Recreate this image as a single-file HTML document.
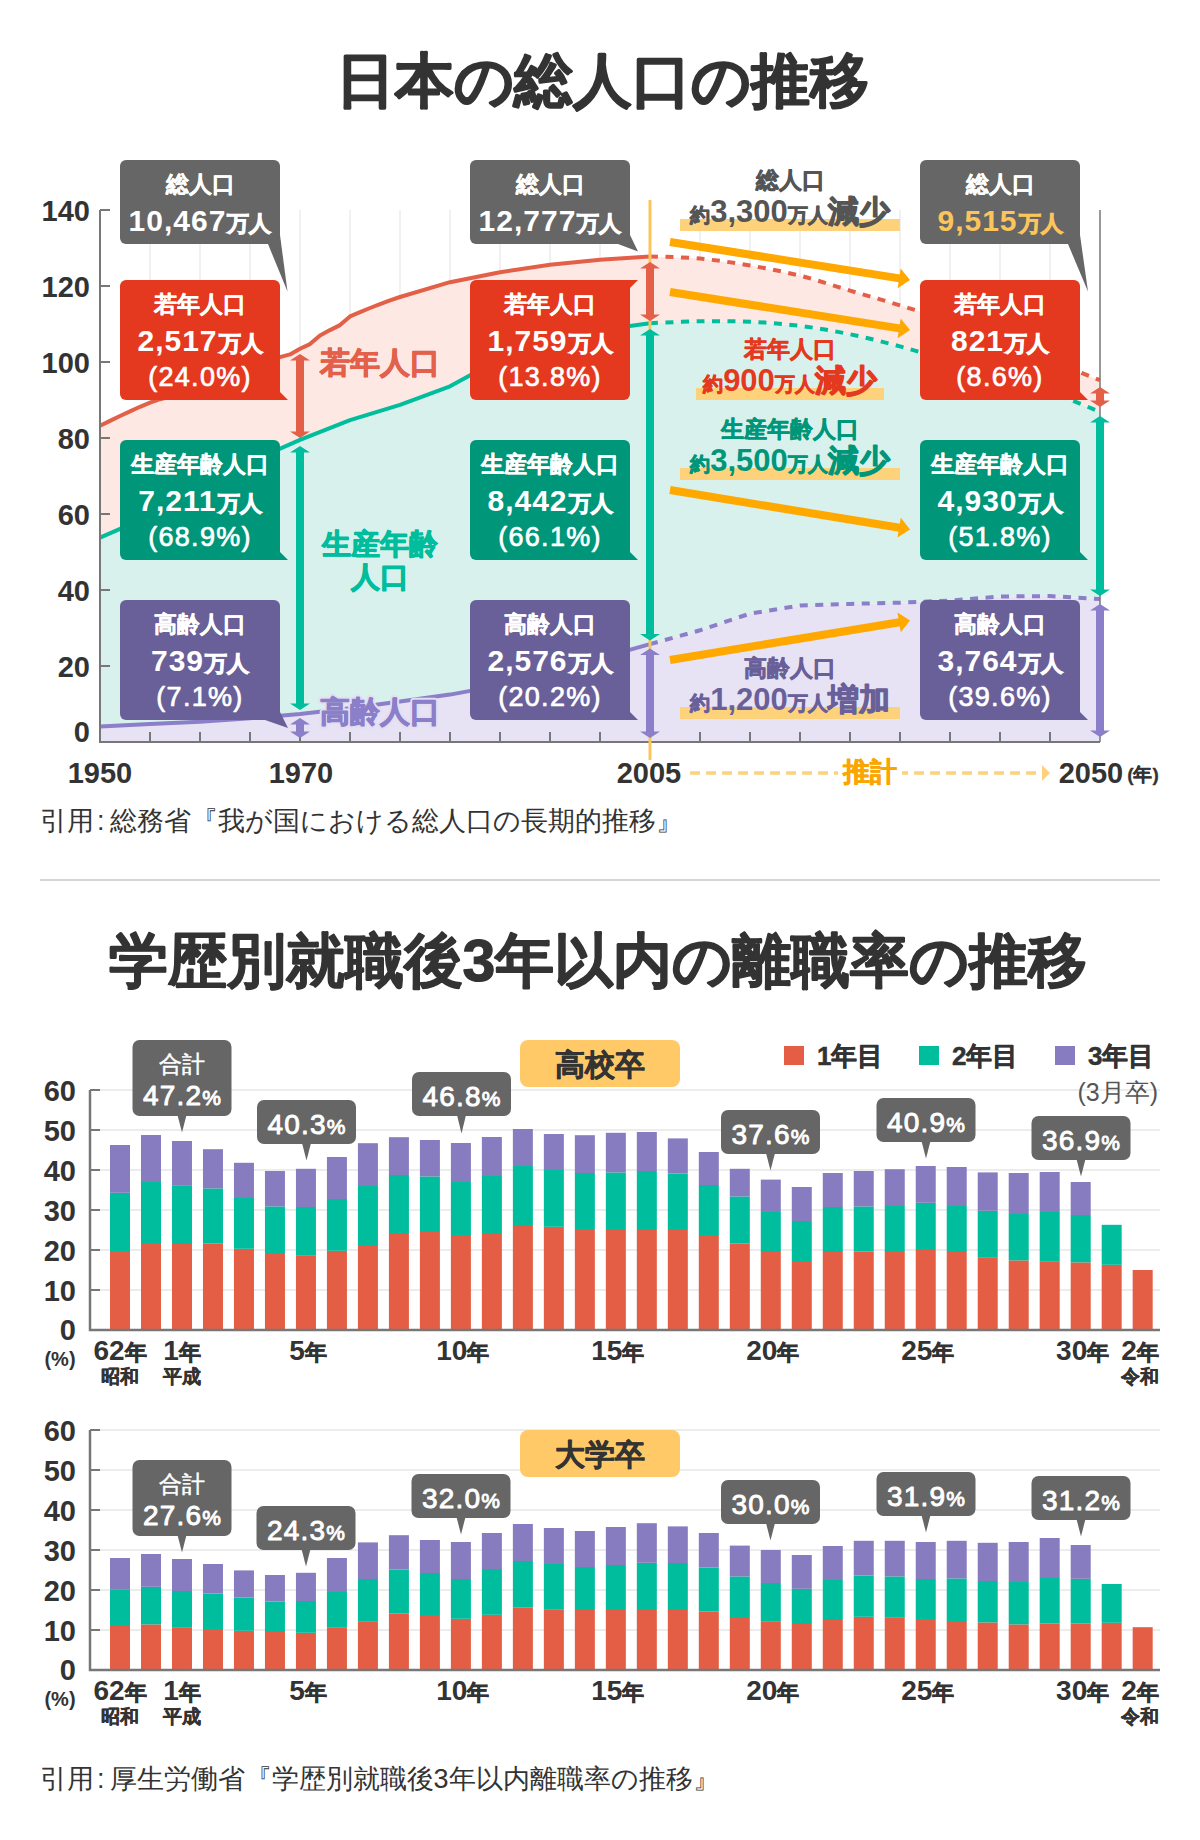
<!DOCTYPE html><html><head><meta charset="utf-8"><style>
html,body{margin:0;padding:0;background:#fff;}
svg{display:block;font-family:'Liberation Sans', sans-serif;}
</style></head><body>
<svg width="1200" height="1840" viewBox="0 0 1200 1840">
<text x="602" y="101" font-size="59" font-weight="bold" fill="#333" text-anchor="middle" stroke="#333" stroke-width="1.5" stroke-linejoin="round" >日本の総人口の推移</text>
<line x1="150" y1="210" x2="150" y2="742" stroke="#ececec" stroke-width="1.5"/>
<line x1="200" y1="210" x2="200" y2="742" stroke="#ececec" stroke-width="1.5"/>
<line x1="250" y1="210" x2="250" y2="742" stroke="#ececec" stroke-width="1.5"/>
<line x1="300" y1="210" x2="300" y2="742" stroke="#ececec" stroke-width="1.5"/>
<line x1="350" y1="210" x2="350" y2="742" stroke="#ececec" stroke-width="1.5"/>
<line x1="400" y1="210" x2="400" y2="742" stroke="#ececec" stroke-width="1.5"/>
<line x1="450" y1="210" x2="450" y2="742" stroke="#ececec" stroke-width="1.5"/>
<line x1="500" y1="210" x2="500" y2="742" stroke="#ececec" stroke-width="1.5"/>
<line x1="550" y1="210" x2="550" y2="742" stroke="#ececec" stroke-width="1.5"/>
<line x1="600" y1="210" x2="600" y2="742" stroke="#ececec" stroke-width="1.5"/>
<line x1="650" y1="210" x2="650" y2="742" stroke="#ececec" stroke-width="1.5"/>
<line x1="700" y1="210" x2="700" y2="742" stroke="#ececec" stroke-width="1.5"/>
<line x1="750" y1="210" x2="750" y2="742" stroke="#ececec" stroke-width="1.5"/>
<line x1="800" y1="210" x2="800" y2="742" stroke="#ececec" stroke-width="1.5"/>
<line x1="850" y1="210" x2="850" y2="742" stroke="#ececec" stroke-width="1.5"/>
<line x1="900" y1="210" x2="900" y2="742" stroke="#ececec" stroke-width="1.5"/>
<line x1="950" y1="210" x2="950" y2="742" stroke="#ececec" stroke-width="1.5"/>
<line x1="1000" y1="210" x2="1000" y2="742" stroke="#ececec" stroke-width="1.5"/>
<line x1="1050" y1="210" x2="1050" y2="742" stroke="#ececec" stroke-width="1.5"/>
<path d="M100.0,425.8 L110.0,420.9 L120.0,416.0 L130.0,411.4 L140.0,406.8 L150.0,402.7 L160.0,399.2 L170.0,396.6 L180.0,393.2 L190.0,390.1 L200.0,387.1 L210.0,383.7 L220.0,380.2 L230.0,376.4 L240.0,372.6 L250.0,368.5 L260.0,365.8 L270.0,361.2 L280.0,357.1 L290.0,354.4 L300.0,348.7 L310.0,344.1 L320.0,335.4 L330.0,330.1 L340.0,325.1 L350.0,316.4 L360.0,312.2 L370.0,308.0 L380.0,304.2 L390.0,300.4 L400.0,297.0 L450.0,282.2 L500.0,272.3 L550.0,264.7 L600.0,259.8 L650.0,256.4 L700.0,258.6 L750.0,265.5 L800.0,275.7 L850.0,290.6 L900.0,305.4 L950.0,321.3 L1000.0,340.3 L1050.0,360.5 L1100.0,380.2 L1100.0,411.8 L1050.0,392.0 L1000.0,375.7 L950.0,361.2 L900.0,346.4 L850.0,334.3 L800.0,325.9 L750.0,321.7 L700.0,321.3 L650.0,323.2 L600.0,330.1 L550.0,341.5 L500.0,359.0 L450.0,386.3 L400.0,404.9 L350.0,420.1 L300.0,439.9 L250.0,461.9 L200.0,493.5 L150.0,515.9 L100.0,537.6Z" fill="#fde8e4"/>
<path d="M100.0,537.6 L150.0,515.9 L200.0,493.5 L250.0,461.9 L300.0,439.9 L350.0,420.1 L400.0,404.9 L450.0,386.3 L500.0,359.0 L550.0,341.5 L600.0,330.1 L650.0,323.2 L700.0,321.3 L750.0,321.7 L800.0,325.9 L850.0,334.3 L900.0,346.4 L950.0,361.2 L1000.0,375.7 L1050.0,392.0 L1100.0,411.8 L1100.0,599.0 L1050.0,596.1 L1000.0,596.5 L950.0,600.5 L900.0,602.7 L850.0,603.9 L800.0,605.6 L750.0,613.6 L700.0,630.3 L650.0,644.1 L600.0,658.2 L550.0,672.6 L500.0,685.4 L450.0,694.6 L400.0,701.5 L350.0,708.3 L300.0,713.9 L250.0,718.3 L200.0,721.7 L150.0,724.0 L100.0,726.4Z" fill="#d9f1ec"/>
<path d="M100.0,726.4 L150.0,724.0 L200.0,721.7 L250.0,718.3 L300.0,713.9 L350.0,708.3 L400.0,701.5 L450.0,694.6 L500.0,685.4 L550.0,672.6 L600.0,658.2 L650.0,644.1 L700.0,630.3 L750.0,613.6 L800.0,605.6 L850.0,603.9 L900.0,602.7 L950.0,600.5 L1000.0,596.5 L1050.0,596.1 L1100.0,599.0 L1100.0,742.0 L100.0,742.0Z" fill="#e7e2f4"/>
<polyline points="100.0,425.8 110.0,420.9 120.0,416.0 130.0,411.4 140.0,406.8 150.0,402.7 160.0,399.2 170.0,396.6 180.0,393.2 190.0,390.1 200.0,387.1 210.0,383.7 220.0,380.2 230.0,376.4 240.0,372.6 250.0,368.5 260.0,365.8 270.0,361.2 280.0,357.1 290.0,354.4 300.0,348.7 310.0,344.1 320.0,335.4 330.0,330.1 340.0,325.1 350.0,316.4 360.0,312.2 370.0,308.0 380.0,304.2 390.0,300.4 400.0,297.0 450.0,282.2 500.0,272.3 550.0,264.7 600.0,259.8 650.0,256.4" fill="none" stroke="#e35f48" stroke-width="4" stroke-linejoin="round"/>
<path d="M650.0,256.4 C658.3,256.7 683.3,257.1 700.0,258.6 C716.7,260.2 733.3,262.6 750.0,265.5 C766.7,268.3 783.3,271.6 800.0,275.7 C816.7,279.9 833.3,285.6 850.0,290.6 C866.7,295.5 883.3,300.2 900.0,305.4 C916.7,310.5 933.3,315.5 950.0,321.3 C966.7,327.2 983.3,333.8 1000.0,340.3 C1016.7,346.9 1033.3,353.8 1050.0,360.5 C1066.7,367.1 1091.7,376.9 1100.0,380.2" fill="none" stroke="#e35f48" stroke-width="4" stroke-dasharray="8 7.5"/>
<polyline points="100.0,537.6 150.0,515.9 200.0,493.5 250.0,461.9 300.0,439.9 350.0,420.1 400.0,404.9 450.0,386.3 500.0,359.0 550.0,341.5 600.0,330.1 650.0,323.2" fill="none" stroke="#00bd9d" stroke-width="4" stroke-linejoin="round"/>
<path d="M650.0,323.2 C658.3,322.9 683.3,321.6 700.0,321.3 C716.7,321.1 733.3,321.0 750.0,321.7 C766.7,322.5 783.3,323.8 800.0,325.9 C816.7,328.0 833.3,330.8 850.0,334.3 C866.7,337.7 883.3,341.9 900.0,346.4 C916.7,350.9 933.3,356.4 950.0,361.2 C966.7,366.1 983.3,370.6 1000.0,375.7 C1016.7,380.8 1033.3,386.0 1050.0,392.0 C1066.7,398.0 1091.7,408.5 1100.0,411.8" fill="none" stroke="#00bd9d" stroke-width="4" stroke-dasharray="8 7.5"/>
<polyline points="100.0,726.4 150.0,724.0 200.0,721.7 250.0,718.3 300.0,713.9 350.0,708.3 400.0,701.5 450.0,694.6 500.0,685.4 550.0,672.6 600.0,658.2 650.0,644.1" fill="none" stroke="#8a7fc8" stroke-width="4" stroke-linejoin="round"/>
<polyline points="650.0,644.1 700.0,630.3 750.0,613.6 800.0,605.6 850.0,603.9 900.0,602.7 950.0,600.5 1000.0,596.5 1050.0,596.1 1100.0,599.0" fill="none" stroke="#8a7fc8" stroke-width="4" stroke-dasharray="8 7.5"/>
<path d="M100,210 V742 H1100" fill="none" stroke="#777" stroke-width="2"/>
<line x1="1100" y1="210" x2="1100" y2="742" stroke="#777" stroke-width="1.5"/>
<line x1="100" y1="210.0" x2="110" y2="210.0" stroke="#777" stroke-width="2"/>
<text x="90" y="221.0" font-size="29" font-weight="bold" fill="#333" text-anchor="end" >140</text>
<line x1="100" y1="286.0" x2="110" y2="286.0" stroke="#777" stroke-width="2"/>
<text x="90" y="297.0" font-size="29" font-weight="bold" fill="#333" text-anchor="end" >120</text>
<line x1="100" y1="362.0" x2="110" y2="362.0" stroke="#777" stroke-width="2"/>
<text x="90" y="373.0" font-size="29" font-weight="bold" fill="#333" text-anchor="end" >100</text>
<line x1="100" y1="438.0" x2="110" y2="438.0" stroke="#777" stroke-width="2"/>
<text x="90" y="449.0" font-size="29" font-weight="bold" fill="#333" text-anchor="end" >80</text>
<line x1="100" y1="514.0" x2="110" y2="514.0" stroke="#777" stroke-width="2"/>
<text x="90" y="525.0" font-size="29" font-weight="bold" fill="#333" text-anchor="end" >60</text>
<line x1="100" y1="590.0" x2="110" y2="590.0" stroke="#777" stroke-width="2"/>
<text x="90" y="601.0" font-size="29" font-weight="bold" fill="#333" text-anchor="end" >40</text>
<line x1="100" y1="666.0" x2="110" y2="666.0" stroke="#777" stroke-width="2"/>
<text x="90" y="677.0" font-size="29" font-weight="bold" fill="#333" text-anchor="end" >20</text>
<line x1="100" y1="742.0" x2="110" y2="742.0" stroke="#777" stroke-width="2"/>
<text x="90" y="742.0" font-size="29" font-weight="bold" fill="#333" text-anchor="end" >0</text>
<line x1="150" y1="732" x2="150" y2="742" stroke="#777" stroke-width="2"/>
<line x1="200" y1="732" x2="200" y2="742" stroke="#777" stroke-width="2"/>
<line x1="250" y1="732" x2="250" y2="742" stroke="#777" stroke-width="2"/>
<line x1="300" y1="732" x2="300" y2="742" stroke="#777" stroke-width="2"/>
<line x1="350" y1="732" x2="350" y2="742" stroke="#777" stroke-width="2"/>
<line x1="400" y1="732" x2="400" y2="742" stroke="#777" stroke-width="2"/>
<line x1="450" y1="732" x2="450" y2="742" stroke="#777" stroke-width="2"/>
<line x1="500" y1="732" x2="500" y2="742" stroke="#777" stroke-width="2"/>
<line x1="550" y1="732" x2="550" y2="742" stroke="#777" stroke-width="2"/>
<line x1="600" y1="732" x2="600" y2="742" stroke="#777" stroke-width="2"/>
<line x1="650" y1="732" x2="650" y2="742" stroke="#777" stroke-width="2"/>
<line x1="700" y1="732" x2="700" y2="742" stroke="#777" stroke-width="2"/>
<line x1="750" y1="732" x2="750" y2="742" stroke="#777" stroke-width="2"/>
<line x1="800" y1="732" x2="800" y2="742" stroke="#777" stroke-width="2"/>
<line x1="850" y1="732" x2="850" y2="742" stroke="#777" stroke-width="2"/>
<line x1="900" y1="732" x2="900" y2="742" stroke="#777" stroke-width="2"/>
<line x1="950" y1="732" x2="950" y2="742" stroke="#777" stroke-width="2"/>
<line x1="1000" y1="732" x2="1000" y2="742" stroke="#777" stroke-width="2"/>
<line x1="1050" y1="732" x2="1050" y2="742" stroke="#777" stroke-width="2"/>
<line x1="650" y1="200" x2="650" y2="760" stroke="#fcc55c" stroke-width="3"/>
<line x1="300" y1="359.5" x2="300" y2="432.5" stroke="#e35f48" stroke-width="8"/>
<path d="M300,354 L290,360.5 L310,360.5Z M300,438 L290,431.5 L310,431.5Z" fill="#e35f48"/>
<line x1="300" y1="451.5" x2="300" y2="704.5" stroke="#00bd9d" stroke-width="8"/>
<path d="M300,446 L290,452.5 L310,452.5Z M300,710 L290,703.5 L310,703.5Z" fill="#00bd9d"/>
<line x1="300" y1="723.5" x2="300" y2="732.5" stroke="#8a7fc8" stroke-width="8"/>
<path d="M300,718 L290,724.5 L310,724.5Z M300,738 L290,731.5 L310,731.5Z" fill="#8a7fc8"/>
<line x1="650" y1="267.5" x2="650" y2="315.5" stroke="#e35f48" stroke-width="8"/>
<path d="M650,262 L640,268.5 L660,268.5Z M650,321 L640,314.5 L660,314.5Z" fill="#e35f48"/>
<line x1="650" y1="334.5" x2="650" y2="635.0" stroke="#00bd9d" stroke-width="8"/>
<path d="M650,329 L640,335.5 L660,335.5Z M650,640.5 L640,634.0 L660,634.0Z" fill="#00bd9d"/>
<line x1="650" y1="654.0" x2="650" y2="732.5" stroke="#8a7fc8" stroke-width="8"/>
<path d="M650,648.5 L640,655.0 L660,655.0Z M650,738 L640,731.5 L660,731.5Z" fill="#8a7fc8"/>
<line x1="1100" y1="392.5" x2="1100" y2="401.5" stroke="#e35f48" stroke-width="8"/>
<path d="M1100,387 L1090,393.5 L1110,393.5Z M1100,407 L1090,400.5 L1110,400.5Z" fill="#e35f48"/>
<line x1="1100" y1="421.5" x2="1100" y2="590.5" stroke="#00bd9d" stroke-width="8"/>
<path d="M1100,416 L1090,422.5 L1110,422.5Z M1100,596 L1090,589.5 L1110,589.5Z" fill="#00bd9d"/>
<line x1="1100" y1="609.5" x2="1100" y2="731.5" stroke="#8a7fc8" stroke-width="8"/>
<path d="M1100,604 L1090,610.5 L1110,610.5Z M1100,737 L1090,730.5 L1110,730.5Z" fill="#8a7fc8"/>
<line x1="670" y1="242" x2="901.1" y2="278.6" stroke="#ffa800" stroke-width="8"/>
<path d="M910,280 L897.6,288.2 L900.7,268.4Z" fill="#ffa800"/>
<line x1="670" y1="292" x2="901.1" y2="328.6" stroke="#ffa800" stroke-width="8"/>
<path d="M910,330 L897.6,338.2 L900.7,318.4Z" fill="#ffa800"/>
<line x1="670" y1="490" x2="901.1" y2="528.0" stroke="#ffa800" stroke-width="8"/>
<path d="M910,529.5 L897.5,537.6 L900.8,517.8Z" fill="#ffa800"/>
<line x1="670" y1="660" x2="901.1" y2="622.0" stroke="#ffa800" stroke-width="8"/>
<path d="M910,620.5 L900.8,632.2 L897.5,612.4Z" fill="#ffa800"/>
<text x="380" y="373" font-size="30" font-weight="bold" fill="#e3604a" text-anchor="middle" stroke="#fde8e4" stroke-width="5" stroke-linejoin="round" paint-order="stroke">若年人口</text>
<text x="380" y="373" font-size="30" font-weight="bold" fill="#e3604a" text-anchor="middle" stroke="#e3604a" stroke-width="1" stroke-linejoin="round">若年人口</text>
<text x="380" y="554" font-size="29" font-weight="bold" fill="#00bd9d" text-anchor="middle" stroke="#d9f1ec" stroke-width="5" stroke-linejoin="round" paint-order="stroke">生産年齢</text>
<text x="380" y="554" font-size="29" font-weight="bold" fill="#00bd9d" text-anchor="middle" stroke="#00bd9d" stroke-width="1" stroke-linejoin="round">生産年齢</text>
<text x="380" y="587" font-size="29" font-weight="bold" fill="#00bd9d" text-anchor="middle" stroke="#d9f1ec" stroke-width="5" stroke-linejoin="round" paint-order="stroke">人口</text>
<text x="380" y="587" font-size="29" font-weight="bold" fill="#00bd9d" text-anchor="middle" stroke="#00bd9d" stroke-width="1" stroke-linejoin="round">人口</text>
<text x="380" y="722" font-size="30" font-weight="bold" fill="#8a7fc8" text-anchor="middle" stroke="#e3def3" stroke-width="5" stroke-linejoin="round" paint-order="stroke">高齢人口</text>
<text x="380" y="722" font-size="30" font-weight="bold" fill="#8a7fc8" text-anchor="middle" stroke="#8a7fc8" stroke-width="1" stroke-linejoin="round">高齢人口</text>
<rect x="120" y="160" width="160" height="84" rx="6" fill="#666666"/>
<path d="M268,244 L280,235 L287.5,291.5Z" fill="#666666"/>
<text x="200" y="192" font-size="23" font-weight="bold" fill="#fff" text-anchor="middle" stroke="#fff" stroke-width="0.4" stroke-linejoin="round" >総人口</text>
<text x="200" y="231" font-weight="bold" fill="#fff" text-anchor="middle"><tspan font-size="30" letter-spacing="1">10,467</tspan><tspan font-size="22" stroke="#fff" stroke-width="0.9" dx="1">万人</tspan></text>
<rect x="470" y="160" width="160" height="84" rx="6" fill="#666666"/>
<path d="M618,244 L630,235 L638,251.5Z" fill="#666666"/>
<text x="550" y="192" font-size="23" font-weight="bold" fill="#fff" text-anchor="middle" stroke="#fff" stroke-width="0.4" stroke-linejoin="round" >総人口</text>
<text x="550" y="231" font-weight="bold" fill="#fff" text-anchor="middle"><tspan font-size="30" letter-spacing="1">12,777</tspan><tspan font-size="22" stroke="#fff" stroke-width="0.9" dx="1">万人</tspan></text>
<rect x="920" y="160" width="160" height="84" rx="6" fill="#666666"/>
<path d="M1068,244 L1080,235 L1088,291.5Z" fill="#666666"/>
<text x="1000" y="192" font-size="23" font-weight="bold" fill="#fff" text-anchor="middle" stroke="#fff" stroke-width="0.4" stroke-linejoin="round" >総人口</text>
<text x="1000" y="231" font-weight="bold" fill="#fcc55c" text-anchor="middle"><tspan font-size="30" letter-spacing="1">9,515</tspan><tspan font-size="22" stroke="#fcc55c" stroke-width="0.9" dx="1">万人</tspan></text>
<rect x="120" y="280" width="160" height="120" rx="6" fill="#e4391f"/>
<path d="M270,400 L280,392 L288,400Z" fill="#e4391f"/>
<text x="200" y="312" font-size="23" font-weight="bold" fill="#fff" text-anchor="middle" stroke="#fff" stroke-width="0.4" stroke-linejoin="round" >若年人口</text>
<text x="200" y="351" font-weight="bold" fill="#fff" text-anchor="middle"><tspan font-size="30" letter-spacing="1">2,517</tspan><tspan font-size="22" stroke="#fff" stroke-width="0.9" dx="1">万人</tspan></text>
<text x="200" y="386" font-size="27" font-weight="normal" fill="#fff" text-anchor="middle" stroke="#fff" stroke-width="0.7" stroke-linejoin="round" letter-spacing="1.3">(24.0%)</text>
<rect x="470" y="280" width="160" height="120" rx="6" fill="#e4391f"/>
<path d="M620,280 L638,280 L630,288Z" fill="#e4391f"/>
<text x="550" y="312" font-size="23" font-weight="bold" fill="#fff" text-anchor="middle" stroke="#fff" stroke-width="0.4" stroke-linejoin="round" >若年人口</text>
<text x="550" y="351" font-weight="bold" fill="#fff" text-anchor="middle"><tspan font-size="30" letter-spacing="1">1,759</tspan><tspan font-size="22" stroke="#fff" stroke-width="0.9" dx="1">万人</tspan></text>
<text x="550" y="386" font-size="27" font-weight="normal" fill="#fff" text-anchor="middle" stroke="#fff" stroke-width="0.7" stroke-linejoin="round" letter-spacing="1.3">(13.8%)</text>
<rect x="920" y="280" width="160" height="120" rx="6" fill="#e4391f"/>
<path d="M1070,400 L1080,392 L1088,400Z" fill="#e4391f"/>
<text x="1000" y="312" font-size="23" font-weight="bold" fill="#fff" text-anchor="middle" stroke="#fff" stroke-width="0.4" stroke-linejoin="round" >若年人口</text>
<text x="1000" y="351" font-weight="bold" fill="#fff" text-anchor="middle"><tspan font-size="30" letter-spacing="1">821</tspan><tspan font-size="22" stroke="#fff" stroke-width="0.9" dx="1">万人</tspan></text>
<text x="1000" y="386" font-size="27" font-weight="normal" fill="#fff" text-anchor="middle" stroke="#fff" stroke-width="0.7" stroke-linejoin="round" letter-spacing="1.3">(8.6%)</text>
<rect x="120" y="440" width="160" height="120" rx="6" fill="#009679"/>
<path d="M270,560 L280,552 L288,560Z" fill="#009679"/>
<text x="200" y="472" font-size="23" font-weight="bold" fill="#fff" text-anchor="middle" stroke="#fff" stroke-width="0.4" stroke-linejoin="round" >生産年齢人口</text>
<text x="200" y="511" font-weight="bold" fill="#fff" text-anchor="middle"><tspan font-size="30" letter-spacing="1">7,211</tspan><tspan font-size="22" stroke="#fff" stroke-width="0.9" dx="1">万人</tspan></text>
<text x="200" y="546" font-size="27" font-weight="normal" fill="#fff" text-anchor="middle" stroke="#fff" stroke-width="0.7" stroke-linejoin="round" letter-spacing="1.3">(68.9%)</text>
<rect x="470" y="440" width="160" height="120" rx="6" fill="#009679"/>
<path d="M620,560 L630,552 L638,560Z" fill="#009679"/>
<text x="550" y="472" font-size="23" font-weight="bold" fill="#fff" text-anchor="middle" stroke="#fff" stroke-width="0.4" stroke-linejoin="round" >生産年齢人口</text>
<text x="550" y="511" font-weight="bold" fill="#fff" text-anchor="middle"><tspan font-size="30" letter-spacing="1">8,442</tspan><tspan font-size="22" stroke="#fff" stroke-width="0.9" dx="1">万人</tspan></text>
<text x="550" y="546" font-size="27" font-weight="normal" fill="#fff" text-anchor="middle" stroke="#fff" stroke-width="0.7" stroke-linejoin="round" letter-spacing="1.3">(66.1%)</text>
<rect x="920" y="440" width="160" height="120" rx="6" fill="#009679"/>
<path d="M1070,560 L1080,552 L1088,560Z" fill="#009679"/>
<text x="1000" y="472" font-size="23" font-weight="bold" fill="#fff" text-anchor="middle" stroke="#fff" stroke-width="0.4" stroke-linejoin="round" >生産年齢人口</text>
<text x="1000" y="511" font-weight="bold" fill="#fff" text-anchor="middle"><tspan font-size="30" letter-spacing="1">4,930</tspan><tspan font-size="22" stroke="#fff" stroke-width="0.9" dx="1">万人</tspan></text>
<text x="1000" y="546" font-size="27" font-weight="normal" fill="#fff" text-anchor="middle" stroke="#fff" stroke-width="0.7" stroke-linejoin="round" letter-spacing="1.3">(51.8%)</text>
<rect x="120" y="600" width="160" height="120" rx="6" fill="#6a6099"/>
<path d="M265,720 L280,712 L288,728Z" fill="#6a6099"/>
<text x="200" y="632" font-size="23" font-weight="bold" fill="#fff" text-anchor="middle" stroke="#fff" stroke-width="0.4" stroke-linejoin="round" >高齢人口</text>
<text x="200" y="671" font-weight="bold" fill="#fff" text-anchor="middle"><tspan font-size="30" letter-spacing="1">739</tspan><tspan font-size="22" stroke="#fff" stroke-width="0.9" dx="1">万人</tspan></text>
<text x="200" y="706" font-size="27" font-weight="normal" fill="#fff" text-anchor="middle" stroke="#fff" stroke-width="0.7" stroke-linejoin="round" letter-spacing="1.3">(7.1%)</text>
<rect x="470" y="600" width="160" height="120" rx="6" fill="#6a6099"/>
<path d="M620,720 L630,712 L638,720Z" fill="#6a6099"/>
<text x="550" y="632" font-size="23" font-weight="bold" fill="#fff" text-anchor="middle" stroke="#fff" stroke-width="0.4" stroke-linejoin="round" >高齢人口</text>
<text x="550" y="671" font-weight="bold" fill="#fff" text-anchor="middle"><tspan font-size="30" letter-spacing="1">2,576</tspan><tspan font-size="22" stroke="#fff" stroke-width="0.9" dx="1">万人</tspan></text>
<text x="550" y="706" font-size="27" font-weight="normal" fill="#fff" text-anchor="middle" stroke="#fff" stroke-width="0.7" stroke-linejoin="round" letter-spacing="1.3">(20.2%)</text>
<rect x="920" y="600" width="160" height="120" rx="6" fill="#6a6099"/>
<path d="M1070,720 L1080,712 L1088,720Z" fill="#6a6099"/>
<text x="1000" y="632" font-size="23" font-weight="bold" fill="#fff" text-anchor="middle" stroke="#fff" stroke-width="0.4" stroke-linejoin="round" >高齢人口</text>
<text x="1000" y="671" font-weight="bold" fill="#fff" text-anchor="middle"><tspan font-size="30" letter-spacing="1">3,764</tspan><tspan font-size="22" stroke="#fff" stroke-width="0.9" dx="1">万人</tspan></text>
<text x="1000" y="706" font-size="27" font-weight="normal" fill="#fff" text-anchor="middle" stroke="#fff" stroke-width="0.7" stroke-linejoin="round" letter-spacing="1.3">(39.6%)</text>
<rect x="680" y="219" width="220" height="12" fill="#fdd27a"/>
<text x="790" y="188" font-size="23" font-weight="bold" fill="#555" text-anchor="middle" stroke="#555" stroke-width="0.7" stroke-linejoin="round" >総人口</text>
<text x="790" y="222" text-anchor="middle" font-weight="bold" fill="#555" stroke="#555" stroke-linejoin="round"><tspan font-size="20" stroke-width="0.8">約</tspan><tspan font-size="31" stroke-width="0">3,300</tspan><tspan font-size="20" stroke-width="0.8">万人</tspan><tspan font-size="31" stroke-width="1.2">減少</tspan></text>
<rect x="696" y="388" width="188" height="12" fill="#fdd27a"/>
<text x="790" y="357" font-size="23" font-weight="bold" fill="#e4391f" text-anchor="middle" stroke="#e4391f" stroke-width="0.7" stroke-linejoin="round" >若年人口</text>
<text x="790" y="391" text-anchor="middle" font-weight="bold" fill="#e4391f" stroke="#e4391f" stroke-linejoin="round"><tspan font-size="20" stroke-width="0.8">約</tspan><tspan font-size="31" stroke-width="0">900</tspan><tspan font-size="20" stroke-width="0.8">万人</tspan><tspan font-size="31" stroke-width="1.2">減少</tspan></text>
<rect x="680" y="468" width="220" height="12" fill="#fdd27a"/>
<text x="790" y="437" font-size="23" font-weight="bold" fill="#009679" text-anchor="middle" stroke="#009679" stroke-width="0.7" stroke-linejoin="round" >生産年齢人口</text>
<text x="790" y="471" text-anchor="middle" font-weight="bold" fill="#009679" stroke="#009679" stroke-linejoin="round"><tspan font-size="20" stroke-width="0.8">約</tspan><tspan font-size="31" stroke-width="0">3,500</tspan><tspan font-size="20" stroke-width="0.8">万人</tspan><tspan font-size="31" stroke-width="1.2">減少</tspan></text>
<rect x="680" y="707" width="220" height="12" fill="#fdd27a"/>
<text x="790" y="676" font-size="23" font-weight="bold" fill="#6a6099" text-anchor="middle" stroke="#6a6099" stroke-width="0.7" stroke-linejoin="round" >高齢人口</text>
<text x="790" y="710" text-anchor="middle" font-weight="bold" fill="#6a6099" stroke="#6a6099" stroke-linejoin="round"><tspan font-size="20" stroke-width="0.8">約</tspan><tspan font-size="31" stroke-width="0">1,200</tspan><tspan font-size="20" stroke-width="0.8">万人</tspan><tspan font-size="31" stroke-width="1.2">増加</tspan></text>
<text x="100" y="783" font-size="29" font-weight="bold" fill="#333" text-anchor="middle" >1950</text>
<text x="301" y="783" font-size="29" font-weight="bold" fill="#333" text-anchor="middle" >1970</text>
<text x="649" y="783" font-size="29" font-weight="bold" fill="#333" text-anchor="middle" >2005</text>
<text x="1091" y="783" font-size="29" font-weight="bold" fill="#333" text-anchor="middle" >2050</text>
<text x="1143" y="781" font-size="19" font-weight="bold" fill="#333" text-anchor="middle" stroke="#333" stroke-width="0.3" stroke-linejoin="round" >(年)</text>
<line x1="690" y1="773" x2="1040" y2="773" stroke="#fdd27a" stroke-width="3.5" stroke-dasharray="10 6"/>
<path d="M1050,773 L1042,765 L1042,781Z" fill="#fdd27a"/>
<rect x="838" y="755" width="64" height="34" fill="#fff"/>
<text x="870" y="781" font-size="27" font-weight="bold" fill="#f9a601" text-anchor="middle" stroke="#f9a601" stroke-width="0.7" stroke-linejoin="round" >推計</text>
<text x="40" y="830" font-size="27" font-weight="normal" fill="#333" text-anchor="start" >引用<tspan dx="3">:</tspan><tspan dx="5">総務省『我が国における総人口の長期的推移』</tspan></text>
<line x1="40" y1="880" x2="1160" y2="880" stroke="#d4d4d4" stroke-width="2"/>
<text x="598" y="981" font-size="59" font-weight="bold" fill="#333" text-anchor="middle" stroke="#333" stroke-width="1.2" stroke-linejoin="round" >学歴別就職後3年以内の離職率の推移</text>
<line x1="90" y1="1330" x2="100" y2="1330" stroke="#777" stroke-width="2"/>
<text x="76" y="1340" font-size="29" font-weight="bold" fill="#333" text-anchor="end" >0</text>
<line x1="90" y1="1290" x2="1160" y2="1290" stroke="#ececec" stroke-width="2"/>
<line x1="90" y1="1290" x2="100" y2="1290" stroke="#777" stroke-width="2"/>
<text x="76" y="1301" font-size="29" font-weight="bold" fill="#333" text-anchor="end" >10</text>
<line x1="90" y1="1250" x2="1160" y2="1250" stroke="#ececec" stroke-width="2"/>
<line x1="90" y1="1250" x2="100" y2="1250" stroke="#777" stroke-width="2"/>
<text x="76" y="1261" font-size="29" font-weight="bold" fill="#333" text-anchor="end" >20</text>
<line x1="90" y1="1210" x2="1160" y2="1210" stroke="#ececec" stroke-width="2"/>
<line x1="90" y1="1210" x2="100" y2="1210" stroke="#777" stroke-width="2"/>
<text x="76" y="1221" font-size="29" font-weight="bold" fill="#333" text-anchor="end" >30</text>
<line x1="90" y1="1170" x2="1160" y2="1170" stroke="#ececec" stroke-width="2"/>
<line x1="90" y1="1170" x2="100" y2="1170" stroke="#777" stroke-width="2"/>
<text x="76" y="1181" font-size="29" font-weight="bold" fill="#333" text-anchor="end" >40</text>
<line x1="90" y1="1130" x2="1160" y2="1130" stroke="#ececec" stroke-width="2"/>
<line x1="90" y1="1130" x2="100" y2="1130" stroke="#777" stroke-width="2"/>
<text x="76" y="1141" font-size="29" font-weight="bold" fill="#333" text-anchor="end" >50</text>
<line x1="90" y1="1090" x2="1160" y2="1090" stroke="#ececec" stroke-width="2"/>
<line x1="90" y1="1090" x2="100" y2="1090" stroke="#777" stroke-width="2"/>
<text x="76" y="1101" font-size="29" font-weight="bold" fill="#333" text-anchor="end" >60</text>
<rect x="110.00" y="1251.0" width="20" height="79.0" fill="#e35e44"/>
<rect x="110.00" y="1192.8" width="20" height="58.2" fill="#00bd9d"/>
<rect x="110.00" y="1145.0" width="20" height="47.8" fill="#877cc0"/>
<rect x="140.99" y="1243.0" width="20" height="87.0" fill="#e35e44"/>
<rect x="140.99" y="1182.0" width="20" height="61.0" fill="#00bd9d"/>
<rect x="140.99" y="1135.0" width="20" height="47.0" fill="#877cc0"/>
<rect x="171.98" y="1244.0" width="20" height="86.0" fill="#e35e44"/>
<rect x="171.98" y="1185.2" width="20" height="58.8" fill="#00bd9d"/>
<rect x="171.98" y="1141.0" width="20" height="44.2" fill="#877cc0"/>
<rect x="202.97" y="1243.6" width="20" height="86.4" fill="#e35e44"/>
<rect x="202.97" y="1188.4" width="20" height="55.2" fill="#00bd9d"/>
<rect x="202.97" y="1149.2" width="20" height="39.2" fill="#877cc0"/>
<rect x="233.96" y="1248.8" width="20" height="81.2" fill="#e35e44"/>
<rect x="233.96" y="1198.0" width="20" height="50.8" fill="#00bd9d"/>
<rect x="233.96" y="1162.8" width="20" height="35.2" fill="#877cc0"/>
<rect x="264.95" y="1253.0" width="20" height="77.0" fill="#e35e44"/>
<rect x="264.95" y="1206.4" width="20" height="46.6" fill="#00bd9d"/>
<rect x="264.95" y="1171.0" width="20" height="35.4" fill="#877cc0"/>
<rect x="295.94" y="1255.2" width="20" height="74.8" fill="#e35e44"/>
<rect x="295.94" y="1207.0" width="20" height="48.2" fill="#00bd9d"/>
<rect x="295.94" y="1168.8" width="20" height="38.2" fill="#877cc0"/>
<rect x="326.93" y="1250.8" width="20" height="79.2" fill="#e35e44"/>
<rect x="326.93" y="1199.0" width="20" height="51.8" fill="#00bd9d"/>
<rect x="326.93" y="1157.0" width="20" height="42.0" fill="#877cc0"/>
<rect x="357.92" y="1245.0" width="20" height="85.0" fill="#e35e44"/>
<rect x="357.92" y="1186.0" width="20" height="59.0" fill="#00bd9d"/>
<rect x="357.92" y="1143.2" width="20" height="42.8" fill="#877cc0"/>
<rect x="388.91" y="1234.0" width="20" height="96.0" fill="#e35e44"/>
<rect x="388.91" y="1175.0" width="20" height="59.0" fill="#00bd9d"/>
<rect x="388.91" y="1137.2" width="20" height="37.8" fill="#877cc0"/>
<rect x="419.90" y="1232.0" width="20" height="98.0" fill="#e35e44"/>
<rect x="419.90" y="1176.4" width="20" height="55.6" fill="#00bd9d"/>
<rect x="419.90" y="1140.0" width="20" height="36.4" fill="#877cc0"/>
<rect x="450.89" y="1235.0" width="20" height="95.0" fill="#e35e44"/>
<rect x="450.89" y="1182.0" width="20" height="53.0" fill="#00bd9d"/>
<rect x="450.89" y="1143.0" width="20" height="39.0" fill="#877cc0"/>
<rect x="481.88" y="1234.0" width="20" height="96.0" fill="#e35e44"/>
<rect x="481.88" y="1176.0" width="20" height="58.0" fill="#00bd9d"/>
<rect x="481.88" y="1137.0" width="20" height="39.0" fill="#877cc0"/>
<rect x="512.87" y="1225.0" width="20" height="105.0" fill="#e35e44"/>
<rect x="512.87" y="1166.0" width="20" height="59.0" fill="#00bd9d"/>
<rect x="512.87" y="1129.0" width="20" height="37.0" fill="#877cc0"/>
<rect x="543.86" y="1226.8" width="20" height="103.2" fill="#e35e44"/>
<rect x="543.86" y="1170.0" width="20" height="56.8" fill="#00bd9d"/>
<rect x="543.86" y="1134.0" width="20" height="36.0" fill="#877cc0"/>
<rect x="574.85" y="1229.0" width="20" height="101.0" fill="#e35e44"/>
<rect x="574.85" y="1173.0" width="20" height="56.0" fill="#00bd9d"/>
<rect x="574.85" y="1135.2" width="20" height="37.8" fill="#877cc0"/>
<rect x="605.84" y="1230.0" width="20" height="100.0" fill="#e35e44"/>
<rect x="605.84" y="1172.4" width="20" height="57.6" fill="#00bd9d"/>
<rect x="605.84" y="1132.8" width="20" height="39.6" fill="#877cc0"/>
<rect x="636.83" y="1230.0" width="20" height="100.0" fill="#e35e44"/>
<rect x="636.83" y="1171.0" width="20" height="59.0" fill="#00bd9d"/>
<rect x="636.83" y="1132.0" width="20" height="39.0" fill="#877cc0"/>
<rect x="667.82" y="1230.0" width="20" height="100.0" fill="#e35e44"/>
<rect x="667.82" y="1173.6" width="20" height="56.4" fill="#00bd9d"/>
<rect x="667.82" y="1138.4" width="20" height="35.2" fill="#877cc0"/>
<rect x="698.81" y="1235.0" width="20" height="95.0" fill="#e35e44"/>
<rect x="698.81" y="1185.0" width="20" height="50.0" fill="#00bd9d"/>
<rect x="698.81" y="1152.0" width="20" height="33.0" fill="#877cc0"/>
<rect x="729.80" y="1243.6" width="20" height="86.4" fill="#e35e44"/>
<rect x="729.80" y="1196.4" width="20" height="47.2" fill="#00bd9d"/>
<rect x="729.80" y="1168.8" width="20" height="27.6" fill="#877cc0"/>
<rect x="760.79" y="1252.0" width="20" height="78.0" fill="#e35e44"/>
<rect x="760.79" y="1212.0" width="20" height="40.0" fill="#00bd9d"/>
<rect x="760.79" y="1179.6" width="20" height="32.4" fill="#877cc0"/>
<rect x="791.78" y="1261.0" width="20" height="69.0" fill="#e35e44"/>
<rect x="791.78" y="1221.0" width="20" height="40.0" fill="#00bd9d"/>
<rect x="791.78" y="1187.0" width="20" height="34.0" fill="#877cc0"/>
<rect x="822.77" y="1252.0" width="20" height="78.0" fill="#e35e44"/>
<rect x="822.77" y="1207.0" width="20" height="45.0" fill="#00bd9d"/>
<rect x="822.77" y="1173.0" width="20" height="34.0" fill="#877cc0"/>
<rect x="853.76" y="1251.6" width="20" height="78.4" fill="#e35e44"/>
<rect x="853.76" y="1206.4" width="20" height="45.2" fill="#00bd9d"/>
<rect x="853.76" y="1171.0" width="20" height="35.4" fill="#877cc0"/>
<rect x="884.75" y="1251.0" width="20" height="79.0" fill="#e35e44"/>
<rect x="884.75" y="1206.0" width="20" height="45.0" fill="#00bd9d"/>
<rect x="884.75" y="1169.2" width="20" height="36.8" fill="#877cc0"/>
<rect x="915.74" y="1250.0" width="20" height="80.0" fill="#e35e44"/>
<rect x="915.74" y="1202.8" width="20" height="47.2" fill="#00bd9d"/>
<rect x="915.74" y="1166.0" width="20" height="36.8" fill="#877cc0"/>
<rect x="946.73" y="1252.0" width="20" height="78.0" fill="#e35e44"/>
<rect x="946.73" y="1206.0" width="20" height="46.0" fill="#00bd9d"/>
<rect x="946.73" y="1167.0" width="20" height="39.0" fill="#877cc0"/>
<rect x="977.72" y="1257.2" width="20" height="72.8" fill="#e35e44"/>
<rect x="977.72" y="1210.8" width="20" height="46.4" fill="#00bd9d"/>
<rect x="977.72" y="1172.4" width="20" height="38.4" fill="#877cc0"/>
<rect x="1008.71" y="1260.4" width="20" height="69.6" fill="#e35e44"/>
<rect x="1008.71" y="1214.0" width="20" height="46.4" fill="#00bd9d"/>
<rect x="1008.71" y="1173.0" width="20" height="41.0" fill="#877cc0"/>
<rect x="1039.70" y="1261.2" width="20" height="68.8" fill="#e35e44"/>
<rect x="1039.70" y="1212.0" width="20" height="49.2" fill="#00bd9d"/>
<rect x="1039.70" y="1172.0" width="20" height="40.0" fill="#877cc0"/>
<rect x="1070.69" y="1262.4" width="20" height="67.6" fill="#e35e44"/>
<rect x="1070.69" y="1215.0" width="20" height="47.4" fill="#00bd9d"/>
<rect x="1070.69" y="1182.0" width="20" height="33.0" fill="#877cc0"/>
<rect x="1101.68" y="1264.8" width="20" height="65.2" fill="#e35e44"/>
<rect x="1101.68" y="1224.8" width="20" height="40.0" fill="#00bd9d"/>
<rect x="1132.67" y="1270.0" width="20" height="60.0" fill="#e35e44"/>
<path d="M90,1090 V1330 H1160" fill="none" stroke="#777" stroke-width="2.5"/>
<rect x="520" y="1040" width="160" height="47" rx="8" fill="#fec966"/>
<text x="600" y="1075" font-size="30" font-weight="bold" fill="#333" text-anchor="middle" stroke="#333" stroke-width="0.6" stroke-linejoin="round" >高校卒</text>
<rect x="132.5" y="1040" width="99" height="76" rx="7" fill="#666"/>
<path d="M177.5,1115 L186.5,1115 L182.0,1132.5Z" fill="#666"/>
<text x="182.0" y="1072" font-size="23" font-weight="normal" fill="#fff" text-anchor="middle" stroke="#fff" stroke-width="0.9" stroke-linejoin="round" ><tspan stroke="#fff" stroke-width="0.5">合計</tspan></text>
<text x="182.0" y="1105" font-size="28" font-weight="normal" fill="#fff" text-anchor="middle" stroke="#fff" stroke-width="0.9" stroke-linejoin="round" ><tspan letter-spacing="1.2">47.2</tspan><tspan font-size="21">%</tspan></text>
<rect x="257" y="1100" width="99" height="44" rx="7" fill="#666"/>
<path d="M302.0,1143 L311.0,1143 L306.5,1160.5Z" fill="#666"/>
<text x="306.5" y="1134" font-size="28" font-weight="normal" fill="#fff" text-anchor="middle" stroke="#fff" stroke-width="0.9" stroke-linejoin="round" ><tspan letter-spacing="1.2">40.3</tspan><tspan font-size="21">%</tspan></text>
<rect x="412" y="1072" width="99" height="44" rx="7" fill="#666"/>
<path d="M457.0,1115 L466.0,1115 L461.5,1133.5Z" fill="#666"/>
<text x="461.5" y="1106" font-size="28" font-weight="normal" fill="#fff" text-anchor="middle" stroke="#fff" stroke-width="0.9" stroke-linejoin="round" ><tspan letter-spacing="1.2">46.8</tspan><tspan font-size="21">%</tspan></text>
<rect x="721" y="1110" width="99" height="44" rx="7" fill="#666"/>
<path d="M766.0,1153 L775.0,1153 L770.5,1170.5Z" fill="#666"/>
<text x="770.5" y="1144" font-size="28" font-weight="normal" fill="#fff" text-anchor="middle" stroke="#fff" stroke-width="0.9" stroke-linejoin="round" ><tspan letter-spacing="1.2">37.6</tspan><tspan font-size="21">%</tspan></text>
<rect x="876.5" y="1098" width="99" height="44" rx="7" fill="#666"/>
<path d="M921.5,1141 L930.5,1141 L926.0,1158.5Z" fill="#666"/>
<text x="926.0" y="1132" font-size="28" font-weight="normal" fill="#fff" text-anchor="middle" stroke="#fff" stroke-width="0.9" stroke-linejoin="round" ><tspan letter-spacing="1.2">40.9</tspan><tspan font-size="21">%</tspan></text>
<rect x="1031.5" y="1116" width="99" height="44" rx="7" fill="#666"/>
<path d="M1076.5,1159 L1085.5,1159 L1081.0,1176.5Z" fill="#666"/>
<text x="1081.0" y="1150" font-size="28" font-weight="normal" fill="#fff" text-anchor="middle" stroke="#fff" stroke-width="0.9" stroke-linejoin="round" ><tspan letter-spacing="1.2">36.9</tspan><tspan font-size="21">%</tspan></text>
<text x="120" y="1360" font-size="28" font-weight="bold" fill="#333" text-anchor="middle" >62<tspan font-size="22" stroke="#333" stroke-width="0.6">年</tspan></text>
<text x="120" y="1383" font-size="19" font-weight="bold" fill="#333" text-anchor="middle" stroke="#333" stroke-width="0.4" stroke-linejoin="round" >昭和</text>
<text x="182" y="1360" font-size="28" font-weight="bold" fill="#333" text-anchor="middle" >1<tspan font-size="22" stroke="#333" stroke-width="0.6">年</tspan></text>
<text x="182" y="1383" font-size="19" font-weight="bold" fill="#333" text-anchor="middle" stroke="#333" stroke-width="0.4" stroke-linejoin="round" >平成</text>
<text x="60" y="1366" font-size="20" font-weight="bold" fill="#333" text-anchor="middle" >(%)</text>
<text x="307.94" y="1360" font-size="28" font-weight="bold" fill="#333" text-anchor="middle" >5<tspan font-size="22" stroke="#333" stroke-width="0.6">年</tspan></text>
<text x="462.89" y="1360" font-size="28" font-weight="bold" fill="#333" text-anchor="middle" >10<tspan font-size="22" stroke="#333" stroke-width="0.6">年</tspan></text>
<text x="617.8399999999999" y="1360" font-size="28" font-weight="bold" fill="#333" text-anchor="middle" >15<tspan font-size="22" stroke="#333" stroke-width="0.6">年</tspan></text>
<text x="772.79" y="1360" font-size="28" font-weight="bold" fill="#333" text-anchor="middle" >20<tspan font-size="22" stroke="#333" stroke-width="0.6">年</tspan></text>
<text x="927.74" y="1360" font-size="28" font-weight="bold" fill="#333" text-anchor="middle" >25<tspan font-size="22" stroke="#333" stroke-width="0.6">年</tspan></text>
<text x="1082.69" y="1360" font-size="28" font-weight="bold" fill="#333" text-anchor="middle" >30<tspan font-size="22" stroke="#333" stroke-width="0.6">年</tspan></text>
<text x="1140" y="1360" font-size="28" font-weight="bold" fill="#333" text-anchor="middle" >2<tspan font-size="22" stroke="#333" stroke-width="0.6">年</tspan></text>
<text x="1140" y="1383" font-size="19" font-weight="bold" fill="#333" text-anchor="middle" stroke="#333" stroke-width="0.4" stroke-linejoin="round" >令和</text>
<rect x="784" y="1046" width="20" height="19" fill="#e35e44"/>
<text x="817" y="1065" font-size="26" font-weight="bold" fill="#333" text-anchor="start" stroke="#333" stroke-width="0.5" stroke-linejoin="round" >1年目</text>
<rect x="919" y="1046" width="20" height="19" fill="#00bd9d"/>
<text x="952" y="1065" font-size="26" font-weight="bold" fill="#333" text-anchor="start" stroke="#333" stroke-width="0.5" stroke-linejoin="round" >2年目</text>
<rect x="1055" y="1046" width="20" height="19" fill="#877cc0"/>
<text x="1088" y="1065" font-size="26" font-weight="bold" fill="#333" text-anchor="start" stroke="#333" stroke-width="0.5" stroke-linejoin="round" >3年目</text>
<text x="1158" y="1101" font-size="25" font-weight="normal" fill="#555" text-anchor="end" >(3月卒)</text>
<line x1="90" y1="1670" x2="100" y2="1670" stroke="#777" stroke-width="2"/>
<text x="76" y="1680" font-size="29" font-weight="bold" fill="#333" text-anchor="end" >0</text>
<line x1="90" y1="1630" x2="1160" y2="1630" stroke="#ececec" stroke-width="2"/>
<line x1="90" y1="1630" x2="100" y2="1630" stroke="#777" stroke-width="2"/>
<text x="76" y="1641" font-size="29" font-weight="bold" fill="#333" text-anchor="end" >10</text>
<line x1="90" y1="1590" x2="1160" y2="1590" stroke="#ececec" stroke-width="2"/>
<line x1="90" y1="1590" x2="100" y2="1590" stroke="#777" stroke-width="2"/>
<text x="76" y="1601" font-size="29" font-weight="bold" fill="#333" text-anchor="end" >20</text>
<line x1="90" y1="1550" x2="1160" y2="1550" stroke="#ececec" stroke-width="2"/>
<line x1="90" y1="1550" x2="100" y2="1550" stroke="#777" stroke-width="2"/>
<text x="76" y="1561" font-size="29" font-weight="bold" fill="#333" text-anchor="end" >30</text>
<line x1="90" y1="1510" x2="1160" y2="1510" stroke="#ececec" stroke-width="2"/>
<line x1="90" y1="1510" x2="100" y2="1510" stroke="#777" stroke-width="2"/>
<text x="76" y="1521" font-size="29" font-weight="bold" fill="#333" text-anchor="end" >40</text>
<line x1="90" y1="1470" x2="1160" y2="1470" stroke="#ececec" stroke-width="2"/>
<line x1="90" y1="1470" x2="100" y2="1470" stroke="#777" stroke-width="2"/>
<text x="76" y="1481" font-size="29" font-weight="bold" fill="#333" text-anchor="end" >50</text>
<line x1="90" y1="1430" x2="1160" y2="1430" stroke="#ececec" stroke-width="2"/>
<line x1="90" y1="1430" x2="100" y2="1430" stroke="#777" stroke-width="2"/>
<text x="76" y="1441" font-size="29" font-weight="bold" fill="#333" text-anchor="end" >60</text>
<rect x="110.00" y="1626.0" width="20" height="44.0" fill="#e35e44"/>
<rect x="110.00" y="1589.2" width="20" height="36.8" fill="#00bd9d"/>
<rect x="110.00" y="1558.0" width="20" height="31.2" fill="#877cc0"/>
<rect x="140.99" y="1624.4" width="20" height="45.6" fill="#e35e44"/>
<rect x="140.99" y="1586.8" width="20" height="37.6" fill="#00bd9d"/>
<rect x="140.99" y="1554.0" width="20" height="32.8" fill="#877cc0"/>
<rect x="171.98" y="1627.2" width="20" height="42.8" fill="#e35e44"/>
<rect x="171.98" y="1591.0" width="20" height="36.2" fill="#00bd9d"/>
<rect x="171.98" y="1559.0" width="20" height="32.0" fill="#877cc0"/>
<rect x="202.97" y="1629.0" width="20" height="41.0" fill="#e35e44"/>
<rect x="202.97" y="1593.6" width="20" height="35.4" fill="#00bd9d"/>
<rect x="202.97" y="1564.0" width="20" height="29.6" fill="#877cc0"/>
<rect x="233.96" y="1630.8" width="20" height="39.2" fill="#e35e44"/>
<rect x="233.96" y="1597.6" width="20" height="33.2" fill="#00bd9d"/>
<rect x="233.96" y="1570.4" width="20" height="27.2" fill="#877cc0"/>
<rect x="264.95" y="1632.0" width="20" height="38.0" fill="#e35e44"/>
<rect x="264.95" y="1601.6" width="20" height="30.4" fill="#00bd9d"/>
<rect x="264.95" y="1575.0" width="20" height="26.6" fill="#877cc0"/>
<rect x="295.94" y="1632.8" width="20" height="37.2" fill="#e35e44"/>
<rect x="295.94" y="1601.0" width="20" height="31.8" fill="#00bd9d"/>
<rect x="295.94" y="1572.8" width="20" height="28.2" fill="#877cc0"/>
<rect x="326.93" y="1627.2" width="20" height="42.8" fill="#e35e44"/>
<rect x="326.93" y="1592.0" width="20" height="35.2" fill="#00bd9d"/>
<rect x="326.93" y="1558.0" width="20" height="34.0" fill="#877cc0"/>
<rect x="357.92" y="1621.2" width="20" height="48.8" fill="#e35e44"/>
<rect x="357.92" y="1579.0" width="20" height="42.2" fill="#00bd9d"/>
<rect x="357.92" y="1542.4" width="20" height="36.6" fill="#877cc0"/>
<rect x="388.91" y="1613.6" width="20" height="56.4" fill="#e35e44"/>
<rect x="388.91" y="1569.6" width="20" height="44.0" fill="#00bd9d"/>
<rect x="388.91" y="1535.2" width="20" height="34.4" fill="#877cc0"/>
<rect x="419.90" y="1615.0" width="20" height="55.0" fill="#e35e44"/>
<rect x="419.90" y="1573.0" width="20" height="42.0" fill="#00bd9d"/>
<rect x="419.90" y="1540.0" width="20" height="33.0" fill="#877cc0"/>
<rect x="450.89" y="1618.8" width="20" height="51.2" fill="#e35e44"/>
<rect x="450.89" y="1579.0" width="20" height="39.8" fill="#00bd9d"/>
<rect x="450.89" y="1542.0" width="20" height="37.0" fill="#877cc0"/>
<rect x="481.88" y="1614.8" width="20" height="55.2" fill="#e35e44"/>
<rect x="481.88" y="1569.0" width="20" height="45.8" fill="#00bd9d"/>
<rect x="481.88" y="1533.0" width="20" height="36.0" fill="#877cc0"/>
<rect x="512.87" y="1607.3" width="20" height="62.7" fill="#e35e44"/>
<rect x="512.87" y="1561.0" width="20" height="46.3" fill="#00bd9d"/>
<rect x="512.87" y="1524.0" width="20" height="37.0" fill="#877cc0"/>
<rect x="543.86" y="1609.2" width="20" height="60.8" fill="#e35e44"/>
<rect x="543.86" y="1564.0" width="20" height="45.2" fill="#00bd9d"/>
<rect x="543.86" y="1528.0" width="20" height="36.0" fill="#877cc0"/>
<rect x="574.85" y="1610.0" width="20" height="60.0" fill="#e35e44"/>
<rect x="574.85" y="1567.0" width="20" height="43.0" fill="#00bd9d"/>
<rect x="574.85" y="1531.0" width="20" height="36.0" fill="#877cc0"/>
<rect x="605.84" y="1609.0" width="20" height="61.0" fill="#e35e44"/>
<rect x="605.84" y="1565.0" width="20" height="44.0" fill="#00bd9d"/>
<rect x="605.84" y="1527.0" width="20" height="38.0" fill="#877cc0"/>
<rect x="636.83" y="1610.0" width="20" height="60.0" fill="#e35e44"/>
<rect x="636.83" y="1562.8" width="20" height="47.2" fill="#00bd9d"/>
<rect x="636.83" y="1523.2" width="20" height="39.6" fill="#877cc0"/>
<rect x="667.82" y="1610.0" width="20" height="60.0" fill="#e35e44"/>
<rect x="667.82" y="1563.0" width="20" height="47.0" fill="#00bd9d"/>
<rect x="667.82" y="1526.4" width="20" height="36.6" fill="#877cc0"/>
<rect x="698.81" y="1611.6" width="20" height="58.4" fill="#e35e44"/>
<rect x="698.81" y="1567.6" width="20" height="44.0" fill="#00bd9d"/>
<rect x="698.81" y="1533.0" width="20" height="34.6" fill="#877cc0"/>
<rect x="729.80" y="1618.0" width="20" height="52.0" fill="#e35e44"/>
<rect x="729.80" y="1576.4" width="20" height="41.6" fill="#00bd9d"/>
<rect x="729.80" y="1545.6" width="20" height="30.8" fill="#877cc0"/>
<rect x="760.79" y="1621.2" width="20" height="48.8" fill="#e35e44"/>
<rect x="760.79" y="1583.0" width="20" height="38.2" fill="#00bd9d"/>
<rect x="760.79" y="1550.0" width="20" height="33.0" fill="#877cc0"/>
<rect x="791.78" y="1624.0" width="20" height="46.0" fill="#e35e44"/>
<rect x="791.78" y="1588.8" width="20" height="35.2" fill="#00bd9d"/>
<rect x="791.78" y="1555.0" width="20" height="33.8" fill="#877cc0"/>
<rect x="822.77" y="1620.0" width="20" height="50.0" fill="#e35e44"/>
<rect x="822.77" y="1580.0" width="20" height="40.0" fill="#00bd9d"/>
<rect x="822.77" y="1546.0" width="20" height="34.0" fill="#877cc0"/>
<rect x="853.76" y="1616.8" width="20" height="53.2" fill="#e35e44"/>
<rect x="853.76" y="1575.6" width="20" height="41.2" fill="#00bd9d"/>
<rect x="853.76" y="1540.8" width="20" height="34.8" fill="#877cc0"/>
<rect x="884.75" y="1617.8" width="20" height="52.2" fill="#e35e44"/>
<rect x="884.75" y="1576.4" width="20" height="41.4" fill="#00bd9d"/>
<rect x="884.75" y="1540.8" width="20" height="35.6" fill="#877cc0"/>
<rect x="915.74" y="1619.0" width="20" height="51.0" fill="#e35e44"/>
<rect x="915.74" y="1579.0" width="20" height="40.0" fill="#00bd9d"/>
<rect x="915.74" y="1542.0" width="20" height="37.0" fill="#877cc0"/>
<rect x="946.73" y="1621.0" width="20" height="49.0" fill="#e35e44"/>
<rect x="946.73" y="1578.4" width="20" height="42.6" fill="#00bd9d"/>
<rect x="946.73" y="1540.8" width="20" height="37.6" fill="#877cc0"/>
<rect x="977.72" y="1622.4" width="20" height="47.6" fill="#e35e44"/>
<rect x="977.72" y="1581.0" width="20" height="41.4" fill="#00bd9d"/>
<rect x="977.72" y="1542.8" width="20" height="38.2" fill="#877cc0"/>
<rect x="1008.71" y="1624.4" width="20" height="45.6" fill="#e35e44"/>
<rect x="1008.71" y="1582.0" width="20" height="42.4" fill="#00bd9d"/>
<rect x="1008.71" y="1542.0" width="20" height="40.0" fill="#877cc0"/>
<rect x="1039.70" y="1623.6" width="20" height="46.4" fill="#e35e44"/>
<rect x="1039.70" y="1578.0" width="20" height="45.6" fill="#00bd9d"/>
<rect x="1039.70" y="1538.0" width="20" height="40.0" fill="#877cc0"/>
<rect x="1070.69" y="1623.6" width="20" height="46.4" fill="#e35e44"/>
<rect x="1070.69" y="1578.8" width="20" height="44.8" fill="#00bd9d"/>
<rect x="1070.69" y="1545.0" width="20" height="33.8" fill="#877cc0"/>
<rect x="1101.68" y="1622.8" width="20" height="47.2" fill="#e35e44"/>
<rect x="1101.68" y="1584.0" width="20" height="38.8" fill="#00bd9d"/>
<rect x="1132.67" y="1627.2" width="20" height="42.8" fill="#e35e44"/>
<path d="M90,1430 V1670 H1160" fill="none" stroke="#777" stroke-width="2.5"/>
<rect x="520" y="1430" width="160" height="47" rx="8" fill="#fec966"/>
<text x="600" y="1465" font-size="30" font-weight="bold" fill="#333" text-anchor="middle" stroke="#333" stroke-width="0.6" stroke-linejoin="round" >大学卒</text>
<rect x="132.5" y="1460" width="99" height="76" rx="7" fill="#666"/>
<path d="M177.5,1535 L186.5,1535 L182.0,1552.5Z" fill="#666"/>
<text x="182.0" y="1492" font-size="23" font-weight="normal" fill="#fff" text-anchor="middle" stroke="#fff" stroke-width="0.9" stroke-linejoin="round" ><tspan stroke="#fff" stroke-width="0.5">合計</tspan></text>
<text x="182.0" y="1525" font-size="28" font-weight="normal" fill="#fff" text-anchor="middle" stroke="#fff" stroke-width="0.9" stroke-linejoin="round" ><tspan letter-spacing="1.2">27.6</tspan><tspan font-size="21">%</tspan></text>
<rect x="256.5" y="1506" width="99" height="44" rx="7" fill="#666"/>
<path d="M301.5,1549 L310.5,1549 L306.0,1566.5Z" fill="#666"/>
<text x="306.0" y="1540" font-size="28" font-weight="normal" fill="#fff" text-anchor="middle" stroke="#fff" stroke-width="0.9" stroke-linejoin="round" ><tspan letter-spacing="1.2">24.3</tspan><tspan font-size="21">%</tspan></text>
<rect x="411.5" y="1474" width="99" height="44" rx="7" fill="#666"/>
<path d="M456.5,1517 L465.5,1517 L461.0,1534.5Z" fill="#666"/>
<text x="461.0" y="1508" font-size="28" font-weight="normal" fill="#fff" text-anchor="middle" stroke="#fff" stroke-width="0.9" stroke-linejoin="round" ><tspan letter-spacing="1.2">32.0</tspan><tspan font-size="21">%</tspan></text>
<rect x="721" y="1480" width="99" height="44" rx="7" fill="#666"/>
<path d="M766.0,1523 L775.0,1523 L770.5,1540.5Z" fill="#666"/>
<text x="770.5" y="1514" font-size="28" font-weight="normal" fill="#fff" text-anchor="middle" stroke="#fff" stroke-width="0.9" stroke-linejoin="round" ><tspan letter-spacing="1.2">30.0</tspan><tspan font-size="21">%</tspan></text>
<rect x="876.5" y="1472" width="99" height="44" rx="7" fill="#666"/>
<path d="M921.5,1515 L930.5,1515 L926.0,1532.5Z" fill="#666"/>
<text x="926.0" y="1506" font-size="28" font-weight="normal" fill="#fff" text-anchor="middle" stroke="#fff" stroke-width="0.9" stroke-linejoin="round" ><tspan letter-spacing="1.2">31.9</tspan><tspan font-size="21">%</tspan></text>
<rect x="1031.5" y="1476" width="99" height="44" rx="7" fill="#666"/>
<path d="M1076.5,1519 L1085.5,1519 L1081.0,1536.5Z" fill="#666"/>
<text x="1081.0" y="1510" font-size="28" font-weight="normal" fill="#fff" text-anchor="middle" stroke="#fff" stroke-width="0.9" stroke-linejoin="round" ><tspan letter-spacing="1.2">31.2</tspan><tspan font-size="21">%</tspan></text>
<text x="120" y="1700" font-size="28" font-weight="bold" fill="#333" text-anchor="middle" >62<tspan font-size="22" stroke="#333" stroke-width="0.6">年</tspan></text>
<text x="120" y="1723" font-size="19" font-weight="bold" fill="#333" text-anchor="middle" stroke="#333" stroke-width="0.4" stroke-linejoin="round" >昭和</text>
<text x="182" y="1700" font-size="28" font-weight="bold" fill="#333" text-anchor="middle" >1<tspan font-size="22" stroke="#333" stroke-width="0.6">年</tspan></text>
<text x="182" y="1723" font-size="19" font-weight="bold" fill="#333" text-anchor="middle" stroke="#333" stroke-width="0.4" stroke-linejoin="round" >平成</text>
<text x="60" y="1706" font-size="20" font-weight="bold" fill="#333" text-anchor="middle" >(%)</text>
<text x="307.94" y="1700" font-size="28" font-weight="bold" fill="#333" text-anchor="middle" >5<tspan font-size="22" stroke="#333" stroke-width="0.6">年</tspan></text>
<text x="462.89" y="1700" font-size="28" font-weight="bold" fill="#333" text-anchor="middle" >10<tspan font-size="22" stroke="#333" stroke-width="0.6">年</tspan></text>
<text x="617.8399999999999" y="1700" font-size="28" font-weight="bold" fill="#333" text-anchor="middle" >15<tspan font-size="22" stroke="#333" stroke-width="0.6">年</tspan></text>
<text x="772.79" y="1700" font-size="28" font-weight="bold" fill="#333" text-anchor="middle" >20<tspan font-size="22" stroke="#333" stroke-width="0.6">年</tspan></text>
<text x="927.74" y="1700" font-size="28" font-weight="bold" fill="#333" text-anchor="middle" >25<tspan font-size="22" stroke="#333" stroke-width="0.6">年</tspan></text>
<text x="1082.69" y="1700" font-size="28" font-weight="bold" fill="#333" text-anchor="middle" >30<tspan font-size="22" stroke="#333" stroke-width="0.6">年</tspan></text>
<text x="1140" y="1700" font-size="28" font-weight="bold" fill="#333" text-anchor="middle" >2<tspan font-size="22" stroke="#333" stroke-width="0.6">年</tspan></text>
<text x="1140" y="1723" font-size="19" font-weight="bold" fill="#333" text-anchor="middle" stroke="#333" stroke-width="0.4" stroke-linejoin="round" >令和</text>
<text x="40" y="1788" font-size="27" font-weight="normal" fill="#333" text-anchor="start" >引用<tspan dx="3">:</tspan><tspan dx="5">厚生労働省『学歴別就職後3年以内離職率の推移』</tspan></text>
</svg></body></html>
